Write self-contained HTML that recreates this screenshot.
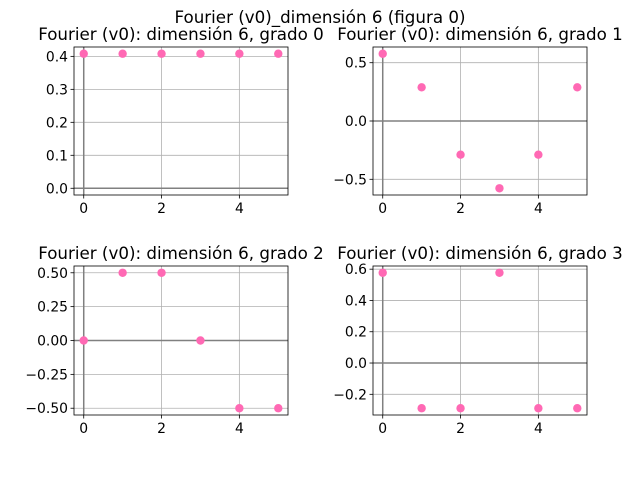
<!DOCTYPE html>
<html><head><meta charset="utf-8"><style>
body{margin:0;background:#fff;}
svg{font-family:"DejaVu Sans","Liberation Sans",sans-serif;}
</style></head><body>
<svg id="fig" width="640" height="480" xmlns="http://www.w3.org/2000/svg">
<text x="320" y="23" font-size="16.7" text-anchor="middle">Fourier (v0)_dimensión 6 (figura 0)</text>
</svg>
<script>
const xCats = [0,1,2,3,4,5];
const xTicks = [0,2,4];
const grado0 = [0.408,0.408,0.408,0.408,0.408,0.408];
const grado1 = [0.577,0.289,-0.289,-0.577,-0.289,0.289];
const grado2 = [0,0.5,0.5,0,-0.5,-0.5];
const grado3 = [0.577,-0.289,-0.289,0.577,-0.289,-0.289];
const ticks0 = [0.0,0.1,0.2,0.3,0.4];
const ticks1 = [-0.5,0.0,0.5];
const ticks2 = [-0.50,-0.25,0.00,0.25,0.50];
const ticks3 = [-0.2,0.0,0.2,0.4,0.6];
const tickFmt = [1,1,2,1];
const titles = ["Fourier (v0): dimensión 6, grado 0","Fourier (v0): dimensión 6, grado 1","Fourier (v0): dimensión 6, grado 2","Fourier (v0): dimensión 6, grado 3"];
const series=[grado0,grado1,grado2,grado3];
const yticks=[ticks0,ticks1,ticks2,ticks3];
const boxes=[[74,47,288,195],[373,47,587,195],[74,266,288,415],[373,266,587,415]];
const svg=document.getElementById('fig');
const NS="http://www.w3.org/2000/svg";
function mk(t,a,p){const e=document.createElementNS(NS,t);for(const k in a)e.setAttribute(k,a[k]);(p||svg).appendChild(e);return e;}
series.forEach((vals,i)=>{
  const [L,T,R,B]=boxes[i];
  const g=mk('g',{});
  
  
  let mn=Math.min(0,...vals),mx=Math.max(0,...vals);
  const pad=(mx-mn)*0.05;mn-=pad;mx+=pad;
  const xmin=-0.25,xmax=5.25;
  const sx=v=>L+(v-xmin)/(xmax-xmin)*(R-L);
  const sy=v=>B-(v-mn)/(mx-mn)*(B-T);
  xTicks.forEach(t=>{
    const x=sx(t);
    mk('line',{x1:x,x2:x,y1:T,y2:B,stroke:'#b0b0b0','stroke-width':0.8},g);
    mk('line',{x1:x,x2:x,y1:B,y2:B+3.5,stroke:'#000','stroke-width':0.8},g);
    const tx=mk('text',{x:x,y:B+18,'font-size':13.9,'text-anchor':'middle'},g);tx.textContent=t;
    
    
  });
  yticks[i].forEach(t=>{
    const y=sy(t);
    mk('line',{x1:L,x2:R,y1:y,y2:y,stroke:'#b0b0b0','stroke-width':0.8},g);
    mk('line',{x1:L-3.5,x2:L,y1:y,y2:y,stroke:'#000','stroke-width':0.8},g);
    const tx=mk('text',{x:L-6,y:y+5,'font-size':13.9,'text-anchor':'end'},g);
    tx.textContent=(t<0?'\u2212':'')+Math.abs(t).toFixed(tickFmt[i]);
    
    
  });
  mk('line',{x1:L,x2:R,y1:sy(0),y2:sy(0),stroke:'#808080','stroke-width':1.5},g);
  mk('line',{x1:sx(0),x2:sx(0),y1:T,y2:B,stroke:'#808080','stroke-width':1.5},g);
  xCats.forEach((c,j)=>{
    const p=mk('circle',{cx:sx(c),cy:sy(vals[j]),r:4.2,fill:'#ff69b4'},g);
    
    
  });
  mk('rect',{x:L,y:T,width:R-L,height:B-T,fill:'none',stroke:'#000','stroke-width':0.8},g);
  const tt=mk('text',{x:(L+R)/2,y:T-7,'font-size':16.7,'text-anchor':'middle'},g);tt.textContent=titles[i];
  
  
});
</script>
</body></html>
